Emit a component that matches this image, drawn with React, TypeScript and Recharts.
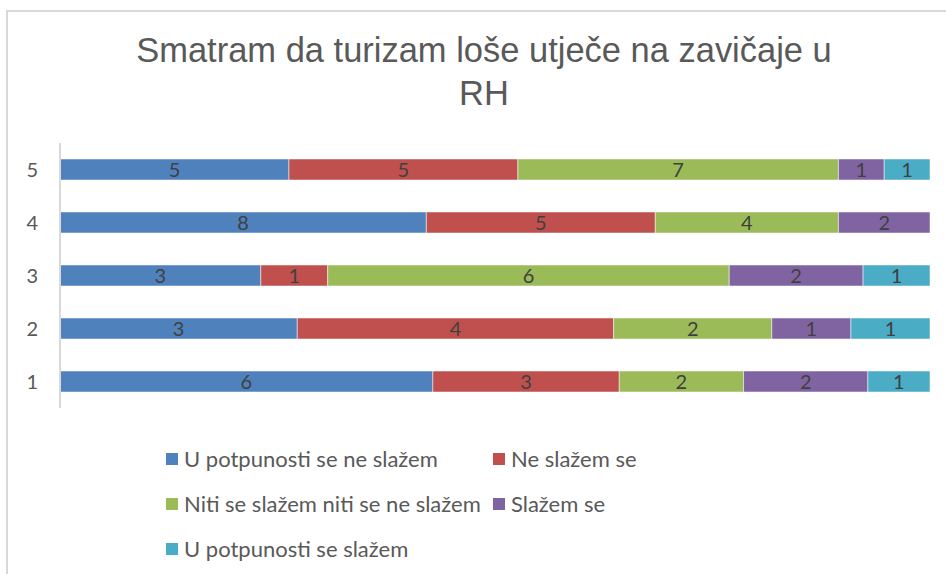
import { BarChart, Bar, XAxis, YAxis, Legend, LabelList } from 'recharts'

const categories = ['1', '2', '3', '4', '5']
const seriesNames = [
  'U potpunosti se ne slažem',
  'Ne slažem se',
  'Niti se slažem niti se ne slažem',
  'Slažem se',
  'U potpunosti se slažem',
]
const colors = ['#4F81BD', '#C0504D', '#9BBB59', '#8064A2', '#4BACC6']

const stronglyDisagree = [6, 3, 3, 8, 5]
const disagree = [3, 4, 1, 5, 5]
const neutral = [2, 2, 6, 4, 7]
const agree = [2, 1, 2, 2, 1]
const stronglyAgree = [1, 1, 1, null, 1]

const seriesValues = [stronglyDisagree, disagree, neutral, agree, stronglyAgree]
const keys = ['s0', 's1', 's2', 's3', 's4']

const data = categories.map((cat, i) => {
  const row: Record<string, string | number | null> = { cat }
  seriesValues.forEach((vals, s) => {
    row[keys[s]] = vals[i]
  })
  return row
})

const FONT = 'Lato, "Open Sans", sans-serif'

function LegendContent() {
  return (
    <div
      style={{
        display: 'grid',
        gridTemplateColumns: '327px 220px',
        fontFamily: FONT,
        fontSize: 22,
        color: '#595959',
      }}
    >
      {seriesNames.map((name, i) => (
        <div key={name} style={{ display: 'flex', alignItems: 'center', height: 45, whiteSpace: 'nowrap' }}>
          <span style={{ width: 12, height: 12, background: colors[i], marginRight: 6, display: 'inline-block' }} />
          {name}
        </div>
      ))}
    </div>
  )
}

export default function App() {
  return (
    <div style={{ position: 'absolute', left: 0, top: 0, width: 946, height: 574, background: '#fff' }}>
      <div
        style={{
          position: 'absolute',
          left: 6,
          top: 10,
          width: 940,
          height: 564,
          borderTop: '2px solid #d9d9d9',
          borderLeft: '2px solid #d9d9d9',
        }}
      />
      <div
        style={{
          position: 'absolute',
          left: 0,
          top: 28,
          width: 968,
          textAlign: 'center',
          fontFamily: '"Liberation Sans", Arial, sans-serif',
          fontSize: 35,
          lineHeight: '43px',
          color: '#595959',
          transform: 'scaleX(0.985)',
        }}
      >
        Smatram da turizam loše utječe na zavičaje u
        <br />
        RH
      </div>
      <BarChart
        width={946}
        height={574}
        data={data}
        layout="vertical"
        stackOffset="expand"
        barCategoryGap={16}
        margin={{ top: 143, right: 16, bottom: 166, left: 0 }}
      >
        <XAxis type="number" hide />
        <YAxis
          type="category"
          dataKey="cat"
          reversed
          width={60}
          tickLine={false}
          tickSize={0}
          tickMargin={22}
          axisLine={{ stroke: '#d9d9d9', strokeWidth: 2 }}
          tick={{ fill: '#595959', fontSize: 20, fontFamily: FONT }}
        />
        <Legend
          layout="horizontal"
          verticalAlign="middle"
          align="center"
          wrapperStyle={{ top: 436, left: 166, width: 580 }}
          content={() => <LegendContent />}
        />
        {keys.map((k, s) => (
          <Bar
            key={k}
            dataKey={k}
            name={seriesNames[s]}
            stackId="a"
            fill={colors[s]}
            stroke="#ffffff"
            strokeWidth={0.5}
            isAnimationActive={false}
          >
            <LabelList
              dataKey={k}
              position="center"
              fill="#404040"
              fontSize={20}
              fontFamily={FONT}
              formatter={(v: unknown) => (v == null || v === 0 ? '' : String(v))}
            />
          </Bar>
        ))}
      </BarChart>
    </div>
  )
}
